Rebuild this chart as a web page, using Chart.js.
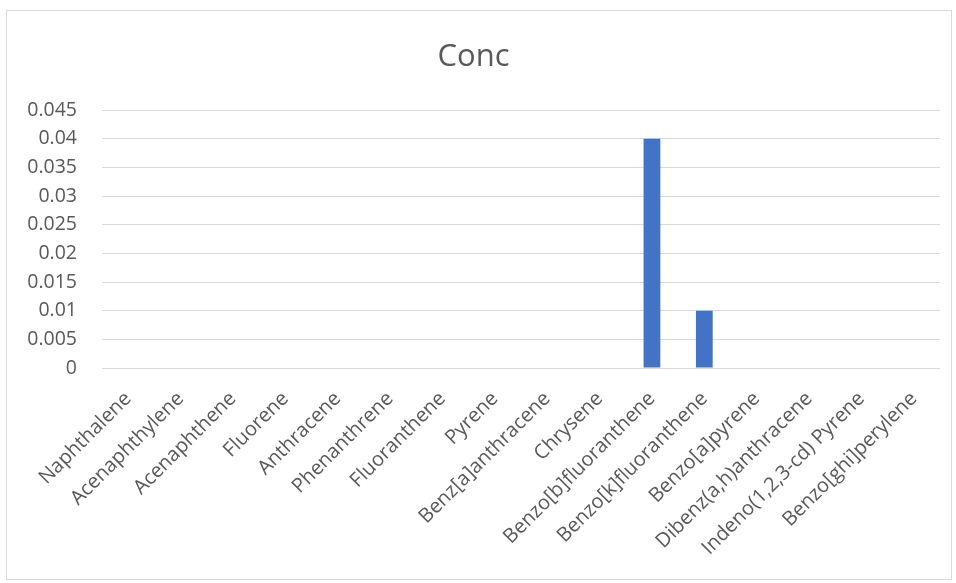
<!DOCTYPE html>
<html>
<head>
<meta charset="utf-8">
<script src="https://cdn.jsdelivr.net/npm/chart.js@4.4.1/dist/chart.umd.min.js"></script>
<style>
  html, body { margin: 0; padding: 0; background: #ffffff; width: 956px; height: 583px; overflow: hidden; }
  #frame { position: absolute; left: 6px; top: 10px; width: 944px; height: 568px; border: 1px solid #d9d9d9; background: #fff; }
  #c { display: block; }
</style>
</head>
<body>
<div id="frame"><canvas id="c" width="944" height="568"></canvas></div>
<script>
const chartTitle = "Conc";
const categories = [
  "Naphthalene", "Acenaphthylene", "Acenaphthene", "Fluorene", "Anthracene",
  "Phenanthrene", "Fluoranthene", "Pyrene", "Benz[a]anthracene", "Chrysene",
  "Benzo[b]fluoranthene", "Benzo[k]fluoranthene", "Benzo[a]pyrene",
  "Dibenz(a,h)anthracene", "Indeno(1,2,3-cd) Pyrene", "Benzo[ghi]perylene"
];
const concValues = [0, 0, 0, 0, 0, 0, 0, 0, 0, 0, 0.04, 0.01, 0, 0, 0, 0];
const yTickValues = [0, 0.005, 0.01, 0.015, 0.02, 0.025, 0.03, 0.035, 0.04, 0.045];

const textColor = "#595959";

new Chart(document.getElementById("c"), {
  type: "bar",
  data: {
    labels: categories,
    datasets: [{
      label: chartTitle,
      data: concValues,
      backgroundColor: "#4472c4",
      borderWidth: 0,
      barPercentage: 0.32,
      categoryPercentage: 1.0
    }]
  },
  options: {
    responsive: false,
    animation: false,
    layout: { padding: { left: 0, right: 11, top: 0, bottom: 0 } },
    plugins: {
      legend: { display: false },
      tooltip: { enabled: false },
      title: {
        display: true,
        text: chartTitle,
        color: textColor,
        font: { family: "'Open Sans'", size: 31, weight: "normal" },
        padding: { top: 28, bottom: 34 }
      }
    },
    scales: {
      x: {
        grid: { display: false, drawTicks: false },
        border: { display: false },
        ticks: {
          autoSkip: false,
          maxRotation: 45,
          minRotation: 45,
          padding: 19,
          color: textColor,
          font: { family: "'Open Sans'", size: 20 }
        },
        afterFit: (s) => { s.height = 211; }
      },
      y: {
        min: 0,
        max: 0.045,
        afterBuildTicks: (s) => { s.ticks = yTickValues.map(v => ({ value: v })); },
        grid: { color: "#d9d9d9", lineWidth: 1, drawTicks: false },
        border: { display: false },
        ticks: {
          padding: 25,
          color: textColor,
          font: { family: "'Open Sans'", size: 19.5 },
          callback: (v) => String(v)
        },
        afterFit: (s) => { s.width = 95; }
      }
    }
  }
});
</script>
</body>
</html>
